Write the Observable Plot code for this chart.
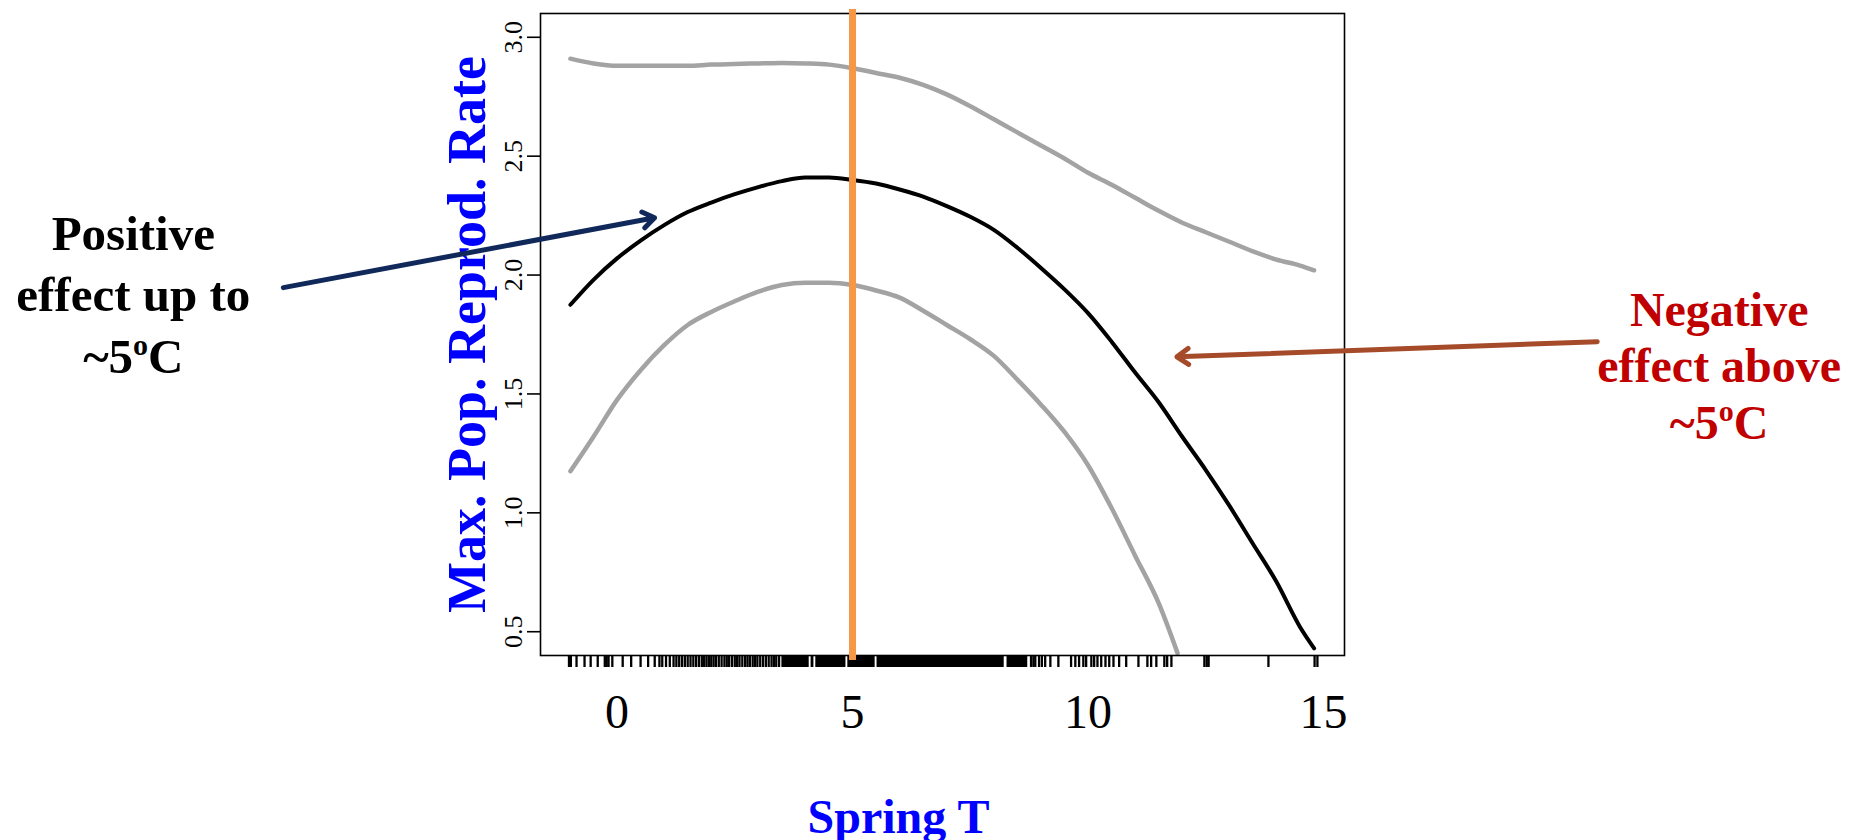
<!DOCTYPE html>
<html><head><meta charset="utf-8">
<script src="https://cdn.jsdelivr.net/npm/d3@7"></script>
<script src="https://cdn.jsdelivr.net/npm/@observablehq/plot@0.6"></script>
<style>
html,body{margin:0;padding:0;background:#fff;overflow:hidden;}
#chart{width:1860px;height:840px;}
</style></head><body><div id="chart"></div>
<script>
// Spring temperature grid and fitted max. population reproductive rate
const springT   = [-0.99, -0.5, 0, 0.5, 1, 1.5, 2, 2.5, 3, 3.5, 4, 4.5, 5, 5.5, 6, 6.5, 7, 7.5, 8, 8.5, 9, 9.5, 10, 10.5, 11, 11.5, 12, 12.5, 13, 13.5, 14, 14.5, 14.8];
const fitRate   = [1.875, 1.98, 2.07, 2.145, 2.21, 2.265, 2.305, 2.34, 2.37, 2.395, 2.41, 2.41, 2.40, 2.385, 2.36, 2.33, 2.29, 2.245, 2.19, 2.115, 2.03, 1.94, 1.84, 1.72, 1.59, 1.465, 1.32, 1.18, 1.03, 0.87, 0.71, 0.52, 0.43];
const upperRate = [2.91, 2.89, 2.88, 2.88, 2.88, 2.88, 2.885, 2.888, 2.89, 2.892, 2.89, 2.885, 2.87, 2.85, 2.83, 2.80, 2.76, 2.71, 2.655, 2.60, 2.545, 2.49, 2.43, 2.38, 2.325, 2.27, 2.22, 2.18, 2.14, 2.10, 2.065, 2.04, 2.02];
// Lower confidence band (runs off the bottom of the plot)
const lowerT    = [-0.99, -0.5, 0, 0.5, 1, 1.5, 2, 2.5, 3, 3.5, 4, 4.5, 5, 5.5, 6, 6.5, 7, 7.5, 8, 8.5, 9, 9.5, 10, 10.5, 11, 11.5, 11.9];
const lowerRate = [1.175, 1.32, 1.475, 1.60, 1.705, 1.79, 1.845, 1.89, 1.93, 1.958, 1.968, 1.968, 1.958, 1.935, 1.905, 1.85, 1.79, 1.73, 1.66, 1.56, 1.455, 1.34, 1.20, 1.02, 0.82, 0.62, 0.41];
// Rug of observed spring temperatures
const rugTicks = [-1.02, -0.98, -0.86, -0.69, -0.56, -0.41, -0.26, -0.22, -0.18, -0.1, 0.12, 0.3, 0.5, 0.66, 0.8, 0.9, 0.96, 1.04, 1.12, 1.2, 1.26, 1.32, 1.38, 1.44, 1.5, 1.56, 1.62, 1.68, 1.74, 1.8, 1.85, 1.9, 1.95, 2.0, 2.05, 2.1, 2.16, 2.22, 2.28, 2.33, 2.38, 2.44, 2.5, 2.55, 2.6, 2.66, 2.72, 2.77, 2.82, 2.88, 2.93, 2.98, 3.04, 3.1, 3.16, 3.22, 3.28, 3.33, 3.38, 3.44, 8.79, 8.84, 8.88, 8.96, 9.02, 9.09, 9.2, 9.37, 9.64, 9.73, 9.81, 9.9, 9.96, 10.07, 10.13, 10.2, 10.28, 10.37, 10.45, 10.54, 10.66, 10.81, 11.07, 11.26, 11.34, 11.45, 11.62, 11.68, 11.77, 12.47, 12.52, 12.56, 13.83, 14.81, 14.87];
const rugRuns = [[3.5, 4.08], [4.12, 4.18], [4.22, 4.86], [4.9, 5.48], [5.52, 8.22], [8.28, 8.72]];
const thresholdT = [5];
const xTicks = [0, 5, 10, 15];
const yTicks = [0.5, 1.0, 1.5, 2.0, 2.5, 3.0];
const xDomain = [-1.625, 15.445];
const yDomain = [0.4, 3.1];
const xTitle = "Spring T";
const yTitle = "Max. Pop. Reprod. Rate";
const noteText  = ["Positive\neffect up to\n~5oC", "Negative\neffect above\n~5oC"];
const noteX     = [-10.27, 23.40];
const noteY     = [1.93, 1.625];
const noteColor = ["#000000", "#c00000"];
const noteLineHeight = [1.25, 1.18];
const arrowX1 = [-7.085, 20.81];
const arrowY1 = [1.947, 1.72];
const arrowX2 = [0.797, 11.887];
const arrowY2 = [2.241, 1.656];
const arrowColor = ["#10295a", "#a64b2a"];

const fit = springT.map((t, i) => ({t, fit: fitRate[i], upper: upperRate[i]}));
const lower = lowerT.map((t, i) => ({t, lower: lowerRate[i]}));
const notes = noteText.map((text, i) => ({text, x: noteX[i], y: noteY[i], color: noteColor[i]}));
const arrows = arrowX1.map((x1, i) => ({x1, y1: arrowY1[i], x2: arrowX2[i], y2: arrowY2[i], color: arrowColor[i]}));

const serif = "'Liberation Serif', 'Times New Roman', serif";
const blue = "#0000ff";

const svg = Plot.plot({
  width: 1860, height: 840,
  marginLeft: 540, marginRight: 516, marginTop: 13, marginBottom: 185,
  style: {fontFamily: serif, background: "white", overflow: "visible"},
  x: {domain: xDomain, axis: null},
  y: {domain: yDomain, axis: null},
  color: {type: "identity"},
  marks: [
    Plot.line(fit, {x: "t", y: "upper", stroke: "#a3a3a3", strokeWidth: 4.5, curve: "monotone-x"}),
    Plot.line(lower, {x: "t", y: "lower", stroke: "#a3a3a3", strokeWidth: 4.5, curve: "monotone-x"}),
    Plot.line(fit, {x: "t", y: "fit", stroke: "#000", strokeWidth: 4, curve: "monotone-x"}),
    Plot.frame({stroke: "#000", strokeWidth: 1.6}),
    // rug
    Plot.ruleX(rugTicks, {x: d => d, y1: yDomain[0], y2: yDomain[0], insetBottom: -12, stroke: "#000", strokeWidth: 2.3}),
    Plot.rect(rugRuns, {x1: d => d[0], x2: d => d[1], y1: yDomain[0], y2: yDomain[0], insetBottom: -12, fill: "#000"}),
    // threshold line
    Plot.ruleX(thresholdT, {x: d => d, stroke: "#f79646", strokeWidth: 7, insetTop: -4, insetBottom: -5}),
    // y axis ticks and labels
    Plot.ruleY(yTicks, {y: d => d, x1: xDomain[0], x2: xDomain[0], insetLeft: -13, stroke: "#000", strokeWidth: 1.6}),
    Plot.text(yTicks, {y: d => d, frameAnchor: "left", dx: -19, rotate: -90, textAnchor: "middle", lineAnchor: "bottom", fontSize: 26, fill: "#000", text: d => d.toFixed(1)}),
    // x tick labels
    Plot.text(xTicks, {x: d => d, frameAnchor: "bottom", dy: 38, lineAnchor: "top", fontSize: 48, fill: "#000", text: d => String(d)}),
    // axis titles
    Plot.text([yTitle], {frameAnchor: "left", dx: -56, rotate: -90, textAnchor: "middle", lineAnchor: "bottom", fontSize: 54, fontWeight: "bold", fill: blue, text: d => d}),
    Plot.text([xTitle], {frameAnchor: "bottom", dx: -44, dy: 177, textAnchor: "middle", lineAnchor: "bottom", fontSize: 48, fontWeight: "bold", fill: blue, text: d => d}),
    // annotations
    Plot.arrow(arrows, {x1: "x1", y1: "y1", x2: "x2", y2: "y2", stroke: "color", strokeWidth: 5, headLength: 4.2, headAngle: 70}),
    ...notes.map((n, i) => Plot.text([n], {x: "x", y: "y", text: "text", fill: "color", fontSize: i === 0 ? 49 : 48, fontWeight: "bold", lineHeight: noteLineHeight[i], textAnchor: "middle", lineAnchor: "middle"}))
  ]
});

// superscript "o" in "~5oC"
d3.select(svg).selectAll("tspan").filter(function() { return this.textContent === "~5oC"; }).each(function() {
  const s = d3.select(this);
  s.text(null);
  s.append("tspan").text("~5");
  s.append("tspan").attr("dy", -18).attr("font-size", 30).text("o");
  s.append("tspan").attr("dy", 18).text("C");
});

document.getElementById("chart").appendChild(svg);
</script>
</body></html>
